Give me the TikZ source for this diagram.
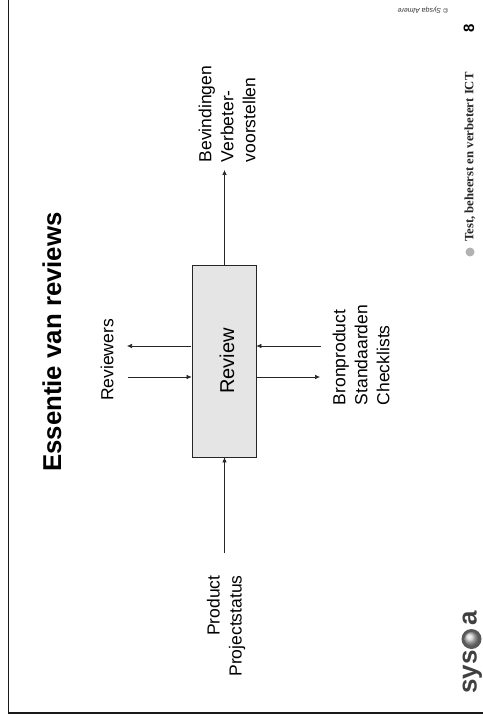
\documentclass[tikz,border=0pt]{standalone}
\usepackage{fontspec}
\setmainfont{Liberation Sans}
\newfontfamily\serifish{Liberation Serif}
\usetikzlibrary{arrows.meta}
\tikzset{x=1pt,y=-1pt,
 lab/.style={rotate=90,font=\fontsize{17.5}{22}\selectfont,inner sep=0pt},
 link/.style={draw=black!85,line width=0.6pt,-{Latex[length=5pt,width=4.5pt]}},
 logotxt/.style={rotate=90,anchor=base,inner sep=0pt,font=\bfseries\fontsize{26}{30}\selectfont,text=black!75}}
\begin{document}
\begin{tikzpicture}
\useasboundingbox (0,0) rectangle (482,719);
\fill[white] (0,0) rectangle (482,719);
\draw[line width=1.5pt,black!90] (8.7,-2) -- (8.7,713) -- (484,713);
\node[rotate=90,inner sep=0pt,font=\fontsize{25.8}{30}\bfseries\selectfont] (title) at (52,342) {Essentie van reviews};
\node[draw=black!85,fill=black!10,line width=0.7pt,minimum width=64pt,minimum height=192pt,inner sep=0pt] (rev) at (224,361) {};
\node[rotate=90,inner sep=0pt,font=\fontsize{20}{24}\selectfont] (revt) at (227,361) {Review};
\node[lab] (rv) at (107,360) {Reviewers};
\node[lab,align=right] (pr) at (226,626) {Product\\Projectstatus};
\node[lab,align=left] (bs) at (227,114) {Bevindingen\\Verbeter-\\voorstellen};
\node[lab,align=left] (br) at (361,355) {Bronproduct\\Standaarden\\Checklists};
\coordinate (outA) at (224.5,170);
\coordinate (inA) at (224.5,553);
\coordinate (rvA) at (127,346);
\coordinate (rvB) at (128,377);
\coordinate (brA) at (321,346);
\coordinate (brB) at (320,377);
\draw[link] (rev.north -| outA) -- (outA);
\draw[link] (inA) -- (rev.south -| inA);
\draw[link] ([xshift=-1pt]rev.west |- rvA) -- (rvA);
\draw[link] (rvB) -- (rev.west |- rvB);
\draw[link] (brA) -- (rev.east |- brA);
\draw[link] (rev.east |- brB) -- (brB);
\node[rotate=180,inner sep=0pt,font=\itshape\fontsize{7}{8}\selectfont,text=black!80] (c) at (423,10) {\textcopyright{} Sysqa Almere};
\node[rotate=90,inner sep=0pt,font=\bfseries\fontsize{15}{16}\selectfont] (n) at (469,28) {8};
\node[rotate=90,inner sep=0pt,font=\serifish\bfseries\fontsize{12.7}{14}\selectfont,text=black!85] (t) at (470,157) {Test, beheerst en verbetert ICT};
\fill[black!30] (470,252) circle (4.5pt);
\node[logotxt] (l1) at (476.5,672) {sys};
\fill[black!65] (471.5,639) circle (10pt);
\shade[ball color=black!18] (471.5,639) circle (7pt);
\node[logotxt] (l2) at (476.5,618.5) {a};
\end{tikzpicture}
\end{document}
